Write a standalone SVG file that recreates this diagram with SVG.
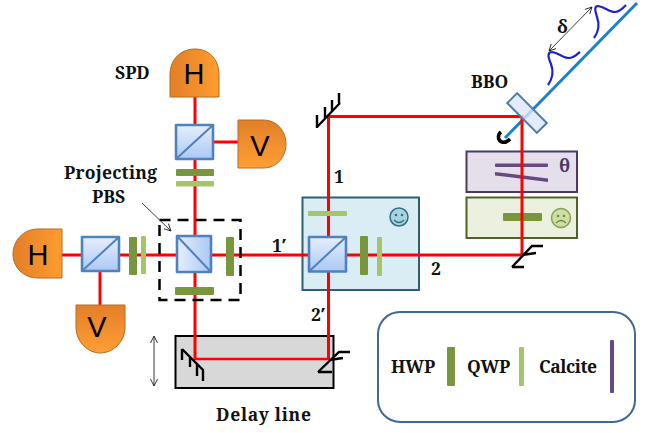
<svg xmlns="http://www.w3.org/2000/svg" width="657" height="433" viewBox="0 0 657 433">
<defs>
<linearGradient id="orH" x1="0" y1="0" x2="1" y2="0"><stop offset="0" stop-color="#e27f28"/><stop offset="1" stop-color="#ff9c30"/></linearGradient>
<linearGradient id="orV" x1="0" y1="0" x2="0" y2="1"><stop offset="0" stop-color="#e27f28"/><stop offset="1" stop-color="#ff9f35"/></linearGradient>
<linearGradient id="cube" x1="0" y1="0" x2="0" y2="1"><stop offset="0" stop-color="#e6effc"/><stop offset="1" stop-color="#abc8f5"/></linearGradient>
<linearGradient id="cubeH" x1="0" y1="0" x2="1" y2="0"><stop offset="0" stop-color="#e6effc"/><stop offset="1" stop-color="#abc8f5"/></linearGradient>
<marker id="ah" viewBox="0 0 8 8" refX="7" refY="4" markerWidth="8" markerHeight="8" orient="auto-start-reverse" markerUnits="userSpaceOnUse"><path d="M0 0.500L7 4L0 7.500" fill="none" stroke="#222" stroke-width="0.9"/></marker>
</defs>
<style>
.t{font-family:"Noto Serif","Liberation Serif",serif;font-weight:bold;fill:#111;font-size:17.5px}
.d{font-family:"Liberation Sans",Arial,sans-serif;font-size:29px;fill:#000;text-anchor:middle}
.r{stroke:#fe0000;stroke-width:3;fill:none}
.rt{stroke:#fe0000;stroke-width:2.4;fill:none}
.c{stroke:#4f81bd;stroke-width:2.6;stroke-linejoin:round}
.cd{stroke:#4f81bd;stroke-width:2;fill:none}
.hwp{fill:#7a963c}
.qwp{fill:#a6c46a}
.cal{fill:#65497f}
.m{stroke:#000;stroke-width:2.4;fill:none}
.thin{stroke:#222;stroke-width:0.9;fill:none;marker-start:url(#ah);marker-end:url(#ah)}
.bl{stroke:#1f1fd8;stroke-width:2.2;fill:none}
</style>
<g id="boxes">
<rect id="delay-box" x="175.500" y="336" width="158" height="52" fill="#d8d8d8" stroke="#000" stroke-width="2"/>
<rect id="sagnac-box" x="302.500" y="197.500" width="116.500" height="92.500" fill="#dbedf4" stroke="#2f5f70" stroke-width="2"/>
<rect id="theta-box" x="466.500" y="151.500" width="110.500" height="40.500" fill="#e5dfec" stroke="#4b3a66" stroke-width="2"/>
<rect id="sad-box" x="466.500" y="197.500" width="110.500" height="40.500" fill="#ebf1de" stroke="#4f6228" stroke-width="2"/>
</g>
<g id="plates-under">
<rect class="hwp" x="503" y="213" width="39" height="8" rx="1"/>
<rect class="cal" x="495" y="163.500" width="53" height="3.500" rx="1"/>
<path class="cal" d="M495 172L548 178.500L548 182L495 175.500Z"/>
</g>
<g id="pump">
<path d="M505 138L637 3" stroke="#1c82c8" stroke-width="3" fill="none"/>
<path class="bl" d="M548 85C553 78 554 72 551 64C548 57 547 52 552 52C559 53 563 58 569 58C574 58 577 54 580 52"/>
<path class="bl" d="M594 38C599 31 600 25 597 17C595 10 594 6 598 6C605 7 609 12 615 12C620 12 623 8 626 5"/>
<path class="thin" d="M549 51L592 7"/>
<path d="M501 132C497 135 498 141 502 142C505 143 508 141 510 139" stroke="#000" stroke-width="3.500" fill="none"/>
<text class="t" x="557" y="33" style="font-size:18px">δ</text>
</g>
<g id="connectors">
<path class="r" d="M62 255H176M212 255H308M346 255H522V116.500H328.500V237"/>
<path class="r" d="M195 97V124M195 159V236M195 273V337"/>
<path class="r" d="M328.500 272V359"/>
<path class="r" d="M195 336V360"/>
<path class="rt" d="M195 359H329"/>
<path class="r" d="M213 142H238"/>
<path class="r" d="M100 271V306"/>
</g>
<g id="plates-over">
<rect class="hwp" x="176" y="169" width="38" height="7" rx="1"/>
<rect class="qwp" x="176" y="181" width="38" height="5.500" rx="1"/>
<rect class="hwp" x="129" y="237" width="8" height="38" rx="1"/>
<rect class="qwp" x="141" y="236" width="5" height="38" rx="1"/>
<rect class="hwp" x="226" y="237" width="8" height="39" rx="1"/>
<rect class="hwp" x="175" y="287" width="39" height="8" rx="1"/>
<rect class="qwp" x="308" y="211" width="39" height="5" rx="1"/>
<rect class="hwp" x="360" y="236" width="8" height="39" rx="1"/>
<rect class="qwp" x="377" y="237" width="5" height="39" rx="1"/>
</g>
<g id="bbo">
<rect x="-21" y="-7" width="42" height="14" transform="translate(527 113) rotate(45)" fill="#d9e6f8" fill-opacity="0.8" stroke="#4f7ba8" stroke-width="2"/>
<text class="t" x="471" y="88">BBO</text>
</g>
<g id="mirror-1"><path class="m" d="M317 127L340 103M317 128V115M325 119V107M332 111V100M339 103V93"/></g>
<g id="mirror-2"><path class="m" d="M512 267L532 246H543M522 255L536 253M512 267H524"/></g>
<g id="mirror-3"><path class="m" d="M182 349L203 370V381M182 349V360M190 357V367M197 364V376"/></g>
<g id="mirror-4"><path class="m" d="M318 372L339 352H350M329 360L343 358M318 372H332"/></g>
<g id="spd-h-top"><path d="M170 97V75C170 59 181 49 195 49C209 49 219 59 219 75V97Z" fill="url(#orH)" stroke="#b56a25"/><text class="d" x="194" y="84">H</text></g>
<g id="spd-v-right"><path d="M238 120H263C277 120 286 131 286 144C286 157 277 168 263 168H238Z" fill="url(#orV)" stroke="#b56a25"/><text class="d" x="260" y="156">V</text></g>
<g id="spd-h-left"><path d="M62 229H38C23 229 13 241 13 254C13 267 23 278 38 278H62Z" fill="url(#orH)" stroke="#b56a25"/><text class="d" x="38" y="265">H</text></g>
<g id="spd-v-bottom"><path d="M76 305H125V327C125 342 113 353 100 353C88 353 76 342 76 327Z" fill="url(#orV)" stroke="#b56a25"/><text class="d" x="97" y="337">V</text></g>
<g id="pbs-top"><rect class="c" x="176" y="125" width="37" height="34" fill="url(#cube)"/><path class="cd" d="M176 159L213 125"/></g>
<g id="pbs-left"><rect class="c" x="82" y="237" width="37" height="34" fill="url(#cube)"/><path class="cd" d="M82 271L119 237"/></g>
<g id="pbs-projecting"><rect class="c" x="177" y="236" width="34" height="36" fill="url(#cubeH)"/><path class="cd" d="M177 236L211 272"/></g>
<g id="pbs-sagnac"><rect class="c" x="309" y="237" width="37" height="34.500" fill="url(#cube)"/><path class="cd" d="M309 271.500L346 237"/></g>
<g id="projecting-box">
<rect x="159.500" y="220" width="81" height="80" fill="none" stroke="#000" stroke-width="2.500" stroke-dasharray="11 7"/>
</g>
<g id="labels">
<text class="t" x="115" y="79">SPD</text>
<text class="t" x="64" y="179" textLength="93">Projecting</text>
<text class="t" x="92" y="203">PBS</text>
<path d="M142 203L171 231" stroke="#222" stroke-width="0.9" fill="none" marker-end="url(#ah)"/>
<path class="thin" d="M154 336V386"/>
<text class="t" x="272" y="252">1′</text>
<text class="t" x="334" y="183">1</text>
<text class="t" x="431" y="275">2</text>
<text class="t" x="311" y="321">2′</text>
<text class="t" x="216" y="421" textLength="95">Delay line</text>
</g>
<g id="faces">
<circle cx="399" cy="217" r="9" fill="#a9d3e0" stroke="#2f6f80" stroke-width="1.500"/>
<circle cx="396" cy="215" r="1.300" fill="#2f6f80"/><circle cx="402" cy="215" r="1.300" fill="#2f6f80"/>
<path d="M394 220Q399 225 404 220" stroke="#2f6f80" stroke-width="1.200" fill="none"/>
<circle cx="561" cy="218" r="9.500" fill="#cfdea8" stroke="#8aa050" stroke-width="1.500"/>
<circle cx="558" cy="216" r="1.300" fill="#6f8a3a"/><circle cx="564" cy="216" r="1.300" fill="#6f8a3a"/>
<path d="M556 223Q561 218 566 223" stroke="#6f8a3a" stroke-width="1.200" fill="none"/>
<text class="t" x="564.500" y="172" text-anchor="middle" style="fill:#4b3a66">θ</text>
</g>
<g id="legend">
<rect x="378" y="312" width="257" height="110" rx="22" fill="#fff" stroke="#3f6797" stroke-width="2"/>
<text class="t" x="391" y="373">HWP</text>
<rect class="hwp" x="447" y="347" width="8" height="39" rx="1"/>
<text class="t" x="467" y="373">QWP</text>
<rect class="qwp" x="519" y="347" width="5" height="39" rx="1"/>
<text class="t" x="539" y="373" textLength="58">Calcite</text>
<rect class="cal" x="610" y="340" width="4" height="53" rx="1"/>
</g>
</svg>
